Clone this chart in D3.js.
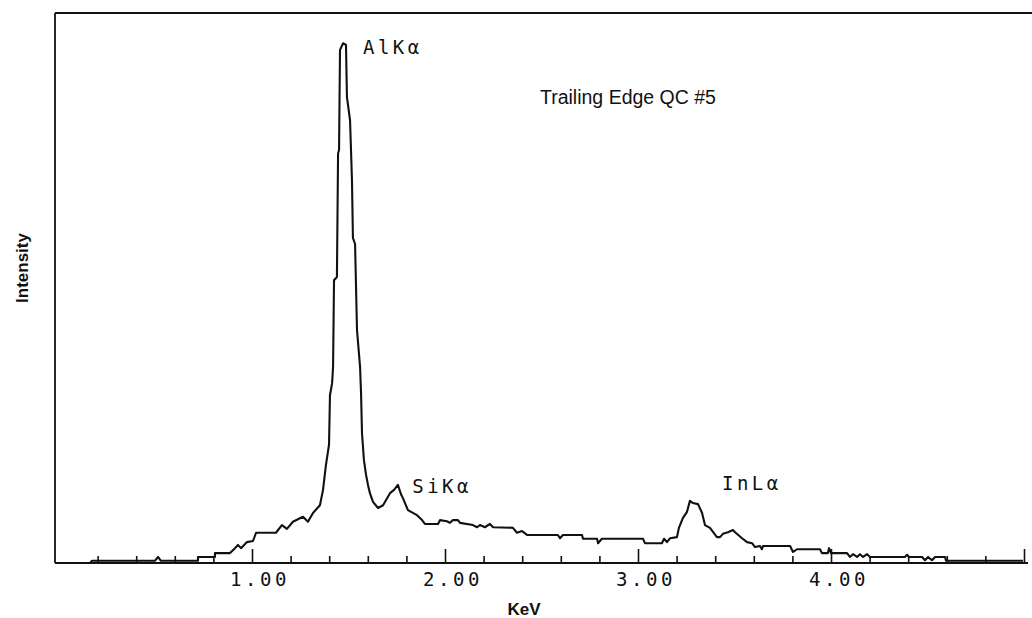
<!DOCTYPE html>
<html>
<head>
<meta charset="utf-8">
<script src="https://cdn.jsdelivr.net/npm/d3@7"></script>
<style>
  html, body { margin: 0; padding: 0; background: #fff; }
  svg { display: block; }
</style>
</head>
<body>
<svg id="chart" width="1032" height="618"></svg>
<script>
// ---- data ----
const energyKeV = [0.161,0.171,0.497,0.513,0.528,0.720,0.720,0.808,0.808,0.886,0.912,0.927,0.943,0.974,1.005,1.021,1.124,1.155,1.181,1.212,1.264,1.290,1.316,1.352,1.368,1.383,1.399,1.404,1.415,1.420,1.425,1.440,1.446,1.451,1.456,1.472,1.487,1.492,1.508,1.518,1.523,1.534,1.544,1.560,1.565,1.570,1.580,1.591,1.601,1.611,1.627,1.653,1.679,1.715,1.736,1.756,1.772,1.782,1.808,1.855,1.881,1.896,1.964,1.974,2.010,2.026,2.041,2.067,2.078,2.145,2.166,2.181,2.207,2.233,2.249,2.352,2.373,2.399,2.425,2.585,2.596,2.611,2.710,2.715,2.788,2.793,2.813,3.026,3.036,3.124,3.135,3.150,3.166,3.202,3.212,3.233,3.254,3.269,3.285,3.311,3.332,3.347,3.373,3.409,3.425,3.440,3.466,3.492,3.503,3.539,3.565,3.591,3.606,3.632,3.642,3.648,3.788,3.803,3.824,3.943,3.953,3.984,3.990,4.000,4.083,4.098,4.114,4.135,4.150,4.166,4.187,4.202,4.383,4.394,4.404,4.472,4.487,4.503,4.523,4.539,4.591,4.596,4.995];
const intensity = [0,4,4,11,4,4,11,11,18,18,27,33,27,38,40,55,55,69,62,75,84,75,91,105,133,178,215,305,327,356,514,520,745,751,933,945,942,847,805,696,591,580,424,356,309,236,187,160,142,127,111,100,105,127,133,142,125,118,96,87,78,71,71,78,76,73,78,78,73,69,65,69,65,71,65,64,55,58,51,51,45,51,51,44,44,36,44,44,36,36,44,38,45,47,64,82,93,113,109,107,91,69,64,47,47,53,56,60,56,45,38,36,29,31,25,31,31,20,25,25,18,18,27,18,18,11,16,11,16,11,16,11,11,15,11,11,5,11,5,11,11,4,4];

const majorTicks = [1, 2, 3, 4, 5];
const tickLabels = ["1.00", "2.00", "3.00", "4.00"];
const minorTicks = [0.2,0.4,0.6,0.8,1.2,1.4,1.6,1.8,2.2,2.4,2.6,2.8,3.2,3.4,3.6,3.8,4.2,4.4,4.6,4.8];

const peakLabels = ["AlKα", "SiKα", "InLα"];
const peakLabelKeV = [1.575, 1.830, 3.435];
const peakLabelInt = [925, 128, 132];

const title = "Trailing Edge QC #5";
const xTitle = "KeV";
const yTitle = "Intensity";

// ---- layout ----
const svg = d3.select("#chart");
const frameLeft = 55, frameTop = 13, baseY = 563;

const x = d3.scaleLinear().domain([0, 5]).range([59, 1024]);
const y = d3.scaleLinear().domain([0, 1000]).range([baseY, frameTop]);

const ink = "#111";
const monoFont = "DejaVu Sans Mono, monospace";
const sansFont = "Liberation Sans, Arial, sans-serif";

// frame: left and top lines
svg.append("line").attr("x1", frameLeft).attr("x2", frameLeft).attr("y1", frameTop).attr("y2", baseY)
  .attr("stroke", ink).attr("stroke-width", 1.8);
svg.append("line").attr("x1", frameLeft).attr("x2", 1032).attr("y1", frameTop).attr("y2", frameTop)
  .attr("stroke", ink).attr("stroke-width", 1.8);

// bottom axis with inward ticks
const gMajor = svg.append("g").attr("transform", `translate(0,${baseY})`)
  .call(d3.axisTop(x).tickValues(majorTicks).tickSize(14).tickFormat(""));
const gMinor = svg.append("g").attr("transform", `translate(0,${baseY})`)
  .call(d3.axisTop(x).tickValues(minorTicks).tickSize(7).tickFormat(""));
[gMajor, gMinor].forEach(g => {
  g.select(".domain").remove();
  g.selectAll(".tick line").attr("stroke", ink).attr("stroke-width", 1.6);
});
svg.append("line").attr("x1", frameLeft).attr("x2", 1028).attr("y1", baseY).attr("y2", baseY)
  .attr("stroke", ink).attr("stroke-width", 1.8);

// tick labels
svg.append("g").selectAll("text").data(tickLabels).join("text")
  .attr("x", (d, i) => x(majorTicks[i]) + 8)
  .attr("y", 586)
  .attr("text-anchor", "middle")
  .attr("font-family", monoFont)
  .attr("font-size", 19)
  .attr("letter-spacing", 3.5)
  .attr("fill", ink)
  .text(d => d);

// spectrum
const pts = energyKeV.map((e, i) => [e, intensity[i]]);
svg.append("path")
  .datum(pts)
  .attr("fill", "none")
  .attr("stroke", ink)
  .attr("stroke-width", 2.1)
  .attr("stroke-linejoin", "round")
  .attr("d", d3.line().x(d => x(d[0])).y(d => y(d[1])));

// peak labels
svg.append("g").selectAll("text").data(peakLabels).join("text")
  .attr("x", (d, i) => x(peakLabelKeV[i]))
  .attr("y", (d, i) => y(peakLabelInt[i]))
  .attr("font-family", monoFont)
  .attr("font-size", 19)
  .attr("letter-spacing", 3.5)
  .attr("fill", ink)
  .text(d => d);

// titles
svg.append("text").attr("x", 540).attr("y", 104)
  .attr("font-family", sansFont).attr("font-size", 19.5)
  .attr("fill", ink).text(title);
svg.append("text").attr("x", 524).attr("y", 615).attr("text-anchor", "middle")
  .attr("font-family", sansFont).attr("font-size", 17).attr("font-weight", "bold")
  .attr("fill", ink).text(xTitle);
svg.append("text").attr("transform", "translate(28,268) rotate(-90)").attr("text-anchor", "middle")
  .attr("font-family", sansFont).attr("font-size", 17).attr("font-weight", "bold")
  .attr("fill", ink).text(yTitle);
</script>
</body>
</html>
